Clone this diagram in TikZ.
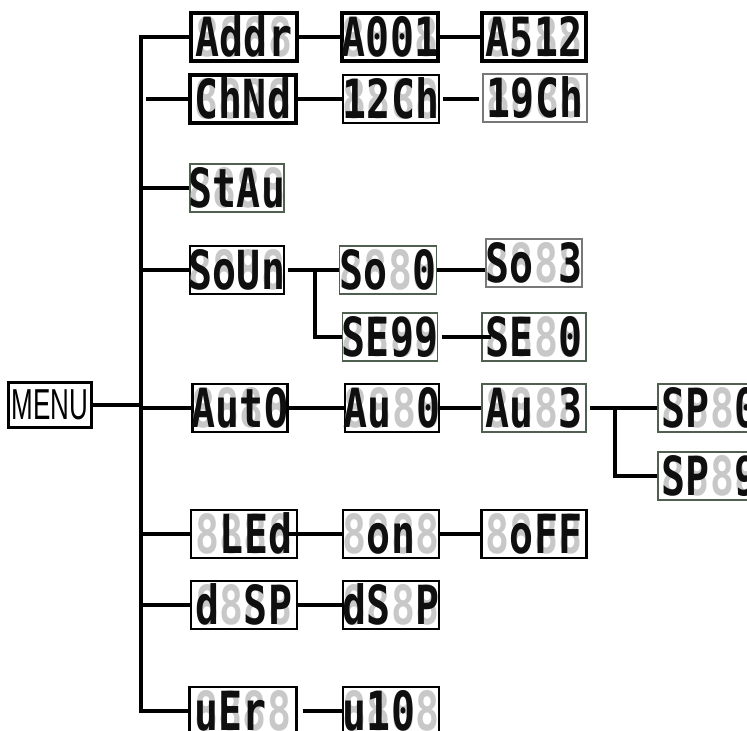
\documentclass[tikz,border=0pt]{standalone}
\usepackage{fontspec}
\setmainfont{Liberation Sans}
\newfontfamily\segfont[FakeStretch=0.74]{DejaVu Sans Mono Bold}
\newfontfamily\menufont[FakeStretch=0.6]{Liberation Sans}
\usetikzlibrary{positioning, calc}
\definecolor{segoff}{RGB}{200,200,200}
\definecolor{segon}{RGB}{15,15,15}
\definecolor{framegreen}{RGB}{80,96,80}
\definecolor{framegray}{RGB}{120,120,120}
\newcommand{\gap}{\phantom{8}}
\tikzset{
  frame/.style={rectangle, draw=black, line width=1.8pt, fill=white, minimum height=14.4mm, inner sep=0pt},
  heavyframe/.style={frame, line width=2.8pt},
  thinframe/.style={frame, draw=framegreen, line width=1.3pt},
  paleframe/.style={frame, draw=framegray, line width=1pt},
  ghost/.style={anchor=base, inner sep=0pt, text=segoff, font=\segfont\fontsize{46}{46}\selectfont},
  lit/.style={ghost, text=segon},
  link/.style={line width=3.3pt, color=black}
}
% one display: style, name, position, width, text
\newcommand{\ledbox}[5][frame]{%
  \node[#1, minimum width=#4] (#2) at (#3) {};
  \node[ghost] at ([yshift=-16.8pt]#2.center) {8888};
  \node[lit] at ([yshift=-16.8pt]#2.center) {#5};
}

\begin{document}
\begin{tikzpicture}[x=0.3mm, y=-0.3mm]
  \useasboundingbox (0,0) rectangle (747,731);

  % Menu root
  \node[frame, line width=1.8pt, minimum width=24.9mm, minimum height=13.5mm, font=\menufont\fontsize{37}{37}\selectfont] (MENU) at (50,405) {MENU};
  \coordinate (trunk) at (141,0);

  % Displays, row by row
  \ledbox[heavyframe]{Addr}{244,37}{31.8mm}{Addr}
  \ledbox[heavyframe]{A001}{390,37}{28.8mm}{A001}
  \ledbox[heavyframe]{A512}{534,37}{31.2mm}{A512}

  \ledbox[heavyframe]{ChNd}{243,99}{31.8mm}{ChNd}
  \ledbox[frame, line width=1.2pt]{12Ch}{391,99}{28.8mm}{12Ch}
  \ledbox[paleframe]{19Ch}{535,98}{31.2mm}{19Ch}

  \ledbox[thinframe]{StAu}{237,188}{28.2mm}{StAu}

  \ledbox{SoUn}{237,270}{28.2mm}{SoUn}
  \ledbox[thinframe]{So0}{388,270}{29.1mm}{So\gap 0}
  \ledbox[paleframe]{So3}{534,263}{28.8mm}{So\gap 3}
  \ledbox[thinframe]{SE99}{390,337}{28.5mm}{SE99}
  \ledbox[thinframe, line width=2pt]{SE0}{534,337}{31.2mm}{SE\gap 0}

  \ledbox{AutO}{240,408}{28.5mm}{AutO}
  \ledbox{Au0}{392,408}{28.2mm}{Au\gap 0}
  \ledbox[thinframe]{Au3}{534,408}{31.2mm}{Au\gap 3}
  \ledbox[thinframe]{SP0}{710,408}{31.2mm}{SP\gap 0}
  \ledbox[thinframe]{SP9}{710,476}{31.2mm}{SP\gap 9}

  \ledbox{LEd}{244,534}{31.8mm}{\gap LEd}
  \ledbox{on}{391,534}{28.8mm}{\gap on\gap}
  \ledbox{oFF}{534,534}{31.5mm}{\gap oFF}

  \ledbox{dISP}{244,605}{31.8mm}{d\gap SP}
  \ledbox{dSIP}{391,605}{28.8mm}{dS\gap P}

  \ledbox{uEr}{243,711}{32.1mm}{uEr\gap}
  \ledbox{u10}{391,711}{28.8mm}{u10\gap}

  % Trunk and branches
  \draw[link] (MENU.east) -- (trunk |- MENU);
  \draw[link] (Addr.west) -| (trunk |- uEr) -- (uEr.west);
  \draw[link] ([xshift=1.5mm]trunk |- ChNd) -- (ChNd.west);
  \foreach \b in {StAu, SoUn, AutO, LEd, dISP}
    \draw[link] (trunk |- \b) -- (\b.west);

  % Links inside each row
  \draw[link] (Addr.east) -- (A001.west);
  \draw[link] (A001.east) -- (A512.west);
  \draw[link] (ChNd.east) -- (12Ch.west);
  \draw[link] ([xshift=1mm]12Ch.east) -- ([xshift=-1mm]12Ch.east -| 19Ch.west);

  \coordinate (sfork) at ($(SoUn.east)!0.55!(So0.west)$);
  \draw[link] ([xshift=1mm]SoUn.east) -- (So0.west);
  \draw[link] (sfork) |- (SE99.west);
  \draw[link] (So0.east) -- (So0.east -| So3.west);
  \draw[link] ([xshift=1mm]SE99.east) -- ([xshift=3mm]SE0.west);

  \coordinate (afork) at ($(Au3.east)!0.4!(SP0.west)$);
  \draw[link] (AutO.east) -- (Au0.west);
  \draw[link] (Au0.east) -- (Au3.west);
  \draw[link] ([xshift=1mm]Au3.east) -- (SP0.west);
  \draw[link] (afork) |- (SP9.west);

  \draw[link] ([xshift=-3mm]LEd.east) -- (on.west);
  \draw[link] (on.east) -- (oFF.west);
  \draw[link] (dISP.east) -- (dSIP.west);
  \draw[link] ([xshift=1.5mm]uEr.east) -- (u10.west);
\end{tikzpicture}
\end{document}
